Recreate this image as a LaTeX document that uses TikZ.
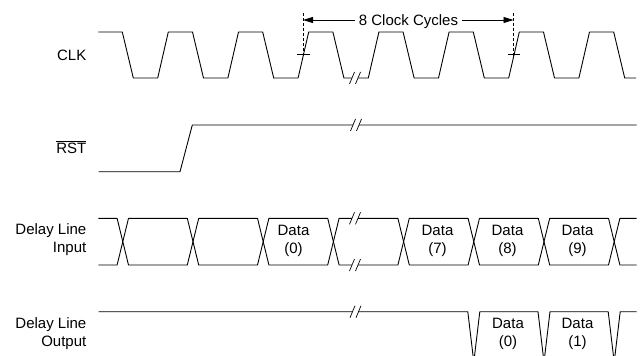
\documentclass[tikz,border=0pt]{standalone}
\usepackage{fontspec}
\setmainfont{Liberation Sans}
\usetikzlibrary{arrows.meta}
\newcommand{\tdbreak}[2]{%
  \fill[white] ({#1-5.5},{#2+6}) -- ({#1-0.5},{#2-6}) -- ({#1+5.5},{#2-6}) -- ({#1+0.5},{#2+6}) -- cycle;
  \draw[brkline] ({#1-5.5},{#2+6}) -- ({#1-0.5},{#2-6}) ({#1+0.5},{#2+6}) -- ({#1+5.5},{#2-6});}
\begin{document}
\begin{tikzpicture}[x=1pt,y=-1pt,
  wave/.style={line width=0.9pt, line join=round},
  brkline/.style={line width=0.7pt},
  lbl/.style={font=\fontsize{15}{18}\selectfont, inner sep=0pt},
  guide/.style={line width=0.7pt, dash pattern=on 3pt off 2pt},
  tickmark/.style={line width=0.8pt},
  dimarrow/.style={line width=0.9pt, -{Triangle[length=10pt,width=6pt]}}]
\useasboundingbox (0,0) rectangle (643,356);
\clip (0,0) rectangle (643,356);

% ---------- labels ----------
\node[lbl, anchor=base east] (clk) at (86.5,60) {CLK};
\node[lbl, anchor=base east] (rst) at (86.5,153.3) {$\overline{\mbox{RST}}$};
\node[lbl, anchor=base east] (din1) at (86.5,234) {Delay Line};
\node[lbl, anchor=base east] (din2) at (86.5,252) {Input};
\node[lbl, anchor=base east] (dout1) at (86.5,328.5) {Delay Line};
\node[lbl, anchor=base east] (dout2) at (86.5,346.5) {Output};

% ---------- CLK ----------
\draw[wave] (98.3,32)
  foreach \k in {0,...,6} {
    -- ({122.3+70.2*\k},32) -- ({133.3+70.2*\k},78)
    -- ({157.7+70.2*\k},78) -- ({168.3+70.2*\k},32) }
  -- (613.7,32) -- (624.7,78) -- (636,78);

% ---------- RST ----------
\draw[wave] (98.7,171.7) -- (180,171.7) -- (192.3,125) -- (636.5,125);

% ---------- Delay line input ----------
\draw[wave] (98.3,218.3) -- (117.1,218.3) -- (122.8,241.65) -- (117.1,265) -- (98.3,265);
\foreach \k in {0,...,6} {
  \draw[wave] ({122.8+70.2*\k},241.65) -- ({128.5+70.2*\k},218.3) -- ({187.3+70.2*\k},218.3)
    -- ({193+70.2*\k},241.65) -- ({187.3+70.2*\k},265) -- ({128.5+70.2*\k},265) -- cycle;
}
\draw[wave] (636.5,218.3) -- (619.9,218.3) -- (614.2,241.65) -- (619.9,265) -- (636.5,265);

% ---------- Delay line output ----------
\draw[wave] (98.7,311.7) -- (467.8,311.7) -- (473.8,362) -- (479.8,412.3);
\draw[wave] (467.8,412.3) -- (473.8,362);
\foreach \k in {5,6} {
  \draw[wave] ({122.8+70.2*\k},362) -- ({128.8+70.2*\k},311.7) -- ({187+70.2*\k},311.7)
    -- ({193+70.2*\k},362) -- ({187+70.2*\k},412.3) -- ({128.8+70.2*\k},412.3) -- cycle;
}
\draw[wave] (636.5,311.7) -- (620.2,311.7) -- (614.2,362) -- (620.2,412.3) -- (636.5,412.3);

% ---------- breaks ----------
\tdbreak{355}{78}
\tdbreak{356}{125}
\tdbreak{355}{218.3}
\tdbreak{355}{265}
\tdbreak{355.5}{311.7}

% ---------- data labels ----------
\foreach \x/\n/\nm in {293.5/0/a, 437.5/7/b, 507.5/8/c, 577.5/9/d} {
  \node[lbl, anchor=base] (in\nm1) at (\x,235) {Data};
  \node[lbl, anchor=base] (in\nm2) at (\x,253) {(\n)};
}
\foreach \x/\n/\nm in {508/0/a, 577.5/1/b} {
  \node[lbl, anchor=base] (out\nm1) at (\x,328.3) {Data};
  \node[lbl, anchor=base] (out\nm2) at (\x,346) {(\n)};
}

% ---------- 8 clock cycles ----------
\draw[guide] (303,13) -- (303,57);
\draw[tickmark] (296.5,54.5) -- (309.5,54.5);
\draw[guide] (513.5,13) -- (513.5,57);
\draw[tickmark] (507.5,54.5) -- (520,54.5);
\coordinate (al) at (303,20);
\coordinate (ar) at (513.5,20);
\node[lbl, anchor=base, inner xsep=4pt] (cyc) at (408.5,25) {8 Clock Cycles};
\draw[dimarrow] (cyc.west |- al) -- (al);
\draw[dimarrow] (cyc.east |- ar) -- (ar);
\end{tikzpicture}
\end{document}
